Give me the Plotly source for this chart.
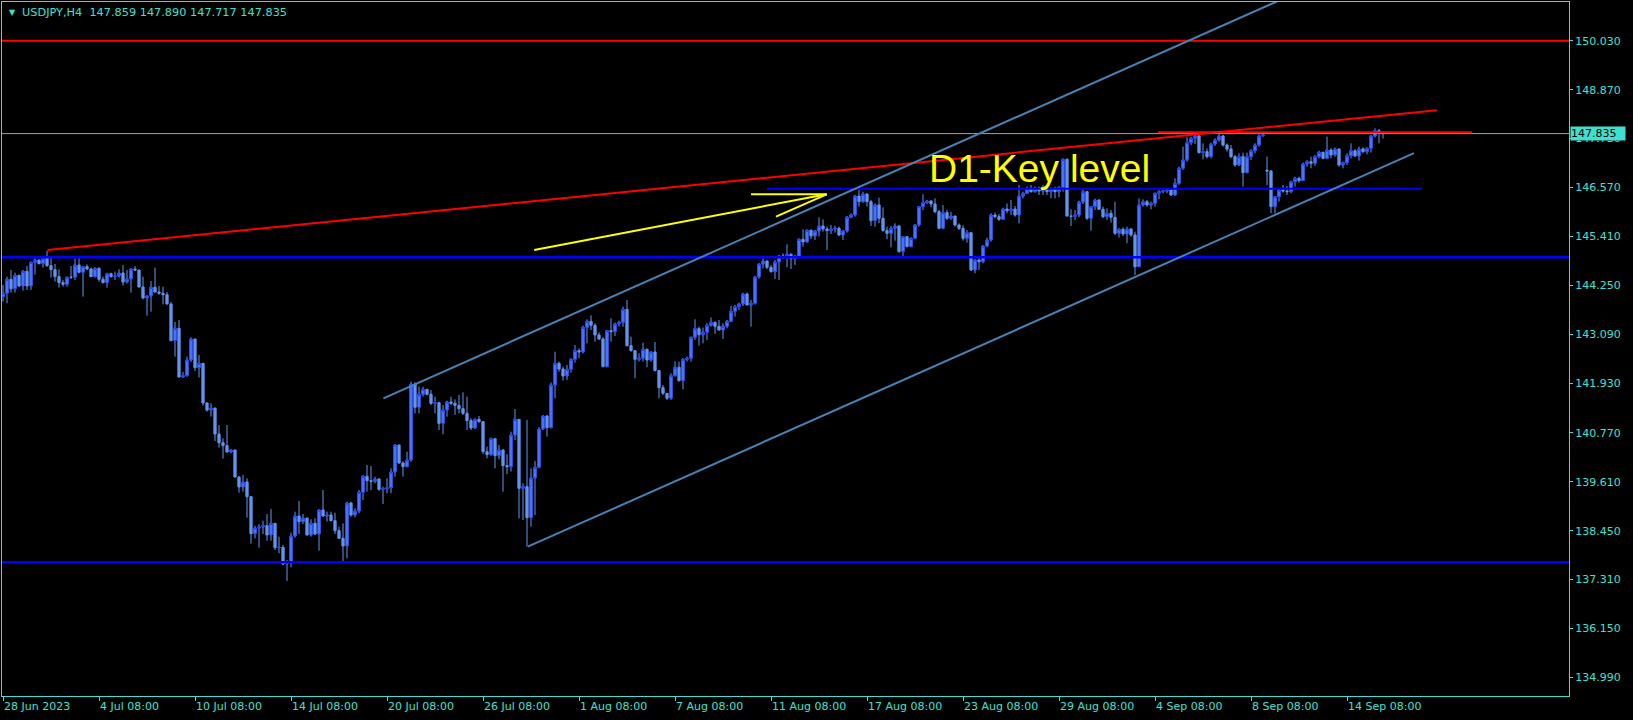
import plotly.graph_objects as go

# ---------------- data (USDJPY H4) ----------------
opens = [
143.983,144.062,144.393,144.172,144.487,144.235,144.582,144.235,144.794,144.849,
144.763,144.889,144.715,144.621,144.456,144.314,144.275,144.440,144.440,144.731,
144.558,144.692,144.637,144.456,144.652,144.393,144.314,144.526,144.456,144.471,
144.542,144.330,144.401,144.637,144.613,144.212,143.952,143.999,144.204,144.093,
144.062,144.030,143.810,142.944,143.235,142.086,142.117,142.487,142.983,142.306,
142.408,141.471,141.306,141.353,140.739,140.534,140.463,140.314,140.361,139.723,
139.487,139.605,139.258,138.384,138.518,138.542,138.573,138.353,138.628,138.053,
138.061,137.668,137.715,138.329,138.802,138.668,138.754,138.353,138.628,138.376,
138.943,138.802,138.825,138.691,138.455,138.274,138.093,139.109,138.825,138.920,
139.361,139.739,139.636,139.621,139.676,139.432,139.447,139.471,139.841,140.479,
140.054,139.967,140.125,141.920,141.369,141.676,141.794,141.676,141.463,141.479,
140.991,141.306,141.495,141.463,141.416,141.337,141.227,141.054,140.881,141.085,
141.030,140.321,140.251,140.628,140.227,140.361,139.991,139.967,140.715,141.085,
139.455,139.495,138.762,139.699,139.951,140.857,141.164,140.888,141.896,142.408,
142.274,142.109,142.266,142.503,142.708,142.677,143.259,143.401,143.306,143.078,
142.984,142.330,143.180,143.157,143.338,143.377,143.684,142.826,142.708,142.503,
142.527,142.740,142.487,142.677,142.236,141.834,141.700,141.582,142.117,142.314,
141.999,142.503,142.527,143.023,143.228,143.086,143.141,143.306,143.377,143.283,
143.196,143.283,143.401,143.637,143.747,143.810,144.047,143.787,143.826,144.448,
144.755,144.826,144.676,144.574,144.802,144.944,144.913,144.984,144.881,144.936,
145.338,145.275,145.551,145.417,145.535,145.653,145.582,145.543,145.582,145.598,
145.440,145.535,145.858,145.913,146.362,146.228,146.409,146.228,145.779,146.149,
145.834,145.543,145.480,145.598,145.653,145.047,145.401,145.165,145.362,145.676,
146.110,146.204,146.243,146.173,145.991,145.598,145.968,145.834,145.889,145.676,
145.598,145.362,145.495,144.613,144.850,144.810,145.180,145.322,145.913,145.873,
145.810,146.054,146.015,146.054,145.913,146.362,146.425,146.527,146.464,146.543,
146.480,146.527,146.464,146.527,146.464,146.558,147.228,145.889,145.880,145.913,
146.220,146.464,145.834,146.110,146.267,146.047,145.873,145.952,145.858,145.480,
145.574,145.464,145.582,145.440,144.691,146.149,146.228,146.149,146.188,146.425,
146.464,146.480,146.503,146.385,146.661,147.015,147.212,147.621,147.724,147.779,
147.385,147.409,147.291,147.590,147.684,147.779,147.566,147.472,147.291,147.094,
147.291,146.913,147.291,147.432,147.566,147.779,146.970,146.950,146.110,146.346,
146.503,146.480,146.464,146.700,146.779,146.724,147.117,147.173,147.133,147.291,
147.393,147.251,147.448,147.330,147.472,147.094,147.149,147.314,147.432,147.306,
147.472,147.409,147.487,147.779,147.905,147.859]

highs = [
144.259,144.456,144.613,144.550,144.500,144.613,144.708,144.810,144.897,144.860,
144.928,145.062,144.928,144.755,144.629,144.377,144.456,144.708,144.889,144.912,
144.700,144.747,144.668,144.676,144.676,144.456,144.550,144.550,144.574,144.629,
144.731,144.613,144.652,144.708,144.613,144.456,144.010,144.353,144.668,144.235,
144.219,144.093,143.857,143.385,143.432,142.204,142.566,143.023,142.983,142.605,
142.416,141.490,141.463,141.353,140.951,140.636,140.951,140.377,140.361,139.747,
139.770,139.691,139.274,138.573,138.612,138.691,138.849,138.967,138.628,138.313,
138.117,137.762,138.408,138.904,139.156,138.849,138.754,138.723,138.746,138.959,
139.416,138.904,138.904,138.880,138.550,138.628,139.140,139.140,138.983,139.416,
139.770,140.006,139.983,139.731,139.690,139.494,139.691,139.928,140.502,140.479,
140.093,140.321,141.975,141.959,141.857,141.857,141.794,141.778,141.621,141.500,
141.424,141.526,141.621,141.558,141.660,141.723,141.621,141.109,141.109,141.164,
141.046,140.440,140.660,140.636,140.479,140.377,140.258,140.794,141.329,141.090,
139.573,141.070,139.928,140.101,140.896,141.188,141.188,141.959,142.684,142.447,
142.329,142.369,142.526,142.842,142.763,143.299,143.448,143.543,143.354,143.141,
143.023,143.196,143.472,143.369,143.417,143.747,143.905,143.039,142.724,142.645,
142.897,142.755,142.692,142.913,142.251,141.897,141.700,142.172,142.456,142.448,
142.527,142.566,143.039,143.448,143.275,143.251,143.354,143.495,143.393,143.432,
143.354,143.432,143.763,143.787,143.842,144.078,144.078,143.905,144.472,144.771,
144.889,144.834,144.732,144.850,144.968,145.007,145.220,145.007,144.968,145.362,
145.574,145.574,145.574,145.558,145.858,145.810,145.637,145.676,145.661,145.637,
145.558,145.889,145.952,146.385,146.503,146.464,146.425,146.267,146.188,146.322,
146.094,145.637,145.653,145.716,145.669,145.417,145.401,145.380,145.700,146.125,
146.401,146.267,146.267,146.306,146.031,146.149,146.031,145.991,145.889,145.716,
145.669,145.558,145.511,144.865,144.889,145.204,145.377,145.952,145.968,145.936,
146.086,146.188,146.267,146.125,146.621,146.464,146.582,146.621,146.582,146.582,
146.621,146.582,146.566,146.582,146.598,147.251,147.251,146.047,146.031,146.251,
146.519,146.480,146.125,146.298,146.280,146.110,146.070,146.031,146.228,145.598,
145.621,145.637,145.597,145.518,146.306,146.283,146.267,146.228,146.440,146.503,
146.503,146.519,146.535,146.779,147.054,147.527,147.763,147.763,147.858,147.802,
147.606,147.487,147.621,147.724,147.842,147.802,147.606,147.566,147.330,147.369,
147.385,147.385,147.464,147.606,147.818,147.826,147.291,146.976,146.362,146.543,
146.621,146.598,146.724,146.818,146.818,147.149,147.212,147.291,147.330,147.432,
147.409,147.763,147.487,147.503,147.480,147.173,147.369,147.606,147.464,147.527,
147.511,147.511,147.802,147.960,147.944,147.890]

lows = [
143.865,143.826,144.078,144.078,144.204,144.125,144.141,144.141,144.503,144.747,
144.668,144.692,144.432,144.338,144.196,144.219,144.219,144.401,144.377,144.534,
143.983,144.613,144.440,144.432,144.338,144.298,144.196,144.432,144.377,144.432,
144.243,144.298,144.078,144.590,144.196,143.920,143.534,143.629,144.078,144.030,
143.802,143.794,142.930,142.566,142.070,142.070,142.094,142.440,142.227,142.070,
141.409,141.267,141.149,140.573,140.416,140.156,140.300,140.282,139.707,139.353,
139.376,138.762,138.148,138.274,138.053,138.376,138.219,138.219,137.998,137.920,
137.636,137.266,137.589,138.290,138.376,138.612,138.340,138.313,138.353,137.983,
138.786,138.668,138.675,138.376,138.258,137.683,137.802,138.786,138.770,138.865,
139.180,139.376,139.416,139.573,139.400,139.085,139.337,139.337,139.731,140.030,
139.731,139.951,140.085,141.227,141.227,141.621,141.652,141.424,141.227,140.833,
140.731,141.148,141.424,141.188,141.227,141.188,140.833,140.833,140.860,141.006,
140.266,140.164,140.219,139.928,140.140,139.377,139.794,139.849,140.597,138.747,
138.707,138.077,138.550,138.825,139.928,140.833,140.676,140.873,141.581,142.211,
141.999,142.014,142.188,142.424,142.527,142.645,142.881,143.196,142.921,142.960,
142.314,142.314,142.921,143.054,143.275,143.275,142.803,142.684,142.054,142.448,
142.448,142.314,142.448,142.220,141.582,141.661,141.543,141.543,142.094,141.976,
141.795,142.448,142.448,142.960,142.826,142.881,142.960,143.275,143.102,143.180,
142.984,143.236,143.377,143.511,143.669,143.763,143.779,143.275,143.795,144.409,
144.653,144.629,144.550,144.401,144.377,144.873,144.676,144.637,144.732,144.897,
145.165,145.270,145.346,145.322,145.401,145.519,145.086,145.464,145.496,145.417,
145.322,145.496,145.834,145.873,146.110,146.200,146.110,145.653,145.637,145.716,
145.519,145.338,145.149,145.306,145.023,144.928,145.149,145.149,145.338,145.637,
146.031,146.173,146.094,145.952,145.574,145.574,145.795,145.795,145.637,145.558,
145.306,145.259,144.590,144.535,144.613,144.771,145.149,145.283,145.834,145.771,
145.795,145.952,145.913,145.873,145.716,146.306,146.409,146.440,146.440,146.385,
146.385,146.385,146.306,146.306,146.330,146.464,145.873,145.653,145.795,145.858,
146.173,145.795,145.543,146.031,146.031,145.834,145.795,145.732,145.440,145.377,
145.417,145.243,145.400,144.495,144.690,146.110,146.110,146.047,146.110,146.283,
146.425,146.425,146.362,146.360,146.621,146.976,147.173,147.566,147.590,147.369,
147.228,147.251,147.251,147.543,147.645,147.527,147.409,147.251,147.054,147.070,
146.582,146.897,147.212,147.369,147.527,147.779,146.621,145.952,145.952,146.228,
146.440,146.385,146.425,146.582,146.677,146.740,147.054,147.015,147.070,147.251,
147.228,147.228,147.251,147.291,147.054,147.015,147.094,147.251,147.291,147.196,
147.369,147.346,147.385,147.747,147.606,147.717]

closes = [
144.062,144.393,144.172,144.487,144.235,144.582,144.235,144.794,144.849,144.763,
144.889,144.715,144.621,144.456,144.314,144.275,144.440,144.440,144.731,144.558,
144.692,144.637,144.456,144.652,144.393,144.314,144.526,144.456,144.471,144.542,
144.330,144.401,144.637,144.613,144.212,143.952,143.999,144.204,144.093,144.062,
144.030,143.810,142.944,143.235,142.086,142.117,142.487,142.983,142.306,142.408,
141.471,141.306,141.353,140.739,140.534,140.463,140.314,140.361,139.723,139.487,
139.605,139.258,138.384,138.518,138.542,138.573,138.353,138.628,138.053,138.061,
137.668,137.715,138.329,138.802,138.668,138.754,138.353,138.628,138.376,138.943,
138.802,138.825,138.691,138.455,138.274,138.093,139.109,138.825,138.920,139.361,
139.739,139.636,139.621,139.676,139.432,139.447,139.471,139.841,140.479,140.054,
139.967,140.125,141.920,141.369,141.676,141.794,141.676,141.463,141.479,140.991,
141.306,141.495,141.463,141.416,141.337,141.227,141.054,140.881,141.085,141.030,
140.321,140.251,140.628,140.227,140.361,139.991,139.967,140.715,141.085,139.455,
139.495,138.762,139.699,139.951,140.857,141.164,140.888,141.896,142.408,142.274,
142.109,142.266,142.503,142.708,142.677,143.259,143.401,143.306,143.078,142.984,
142.330,143.180,143.157,143.338,143.377,143.684,142.826,142.708,142.503,142.527,
142.740,142.487,142.677,142.236,141.834,141.700,141.582,142.117,142.314,141.999,
142.503,142.527,143.023,143.228,143.086,143.141,143.306,143.377,143.283,143.196,
143.283,143.401,143.637,143.747,143.810,144.047,143.787,143.826,144.448,144.755,
144.826,144.676,144.574,144.802,144.944,144.913,144.984,144.881,144.936,145.338,
145.275,145.551,145.417,145.535,145.653,145.582,145.543,145.582,145.598,145.440,
145.535,145.858,145.913,146.362,146.228,146.409,146.228,145.779,146.149,145.834,
145.543,145.480,145.598,145.653,145.047,145.401,145.165,145.362,145.676,146.110,
146.204,146.243,146.173,145.991,145.598,145.968,145.834,145.889,145.676,145.598,
145.362,145.495,144.613,144.850,144.810,145.180,145.322,145.913,145.873,145.810,
146.054,146.015,146.054,145.913,146.362,146.425,146.527,146.464,146.543,146.480,
146.527,146.464,146.527,146.464,146.558,147.228,145.889,145.880,145.913,146.220,
146.464,145.834,146.110,146.267,146.047,145.873,145.952,145.858,145.480,145.574,
145.464,145.582,145.440,144.691,146.149,146.228,146.149,146.188,146.425,146.464,
146.480,146.503,146.385,146.661,147.015,147.212,147.621,147.724,147.779,147.385,
147.409,147.291,147.590,147.684,147.779,147.566,147.472,147.291,147.094,147.291,
146.913,147.291,147.432,147.566,147.779,147.802,146.950,146.110,146.346,146.503,
146.480,146.464,146.700,146.779,146.724,147.117,147.173,147.133,147.291,147.393,
147.251,147.448,147.330,147.472,147.094,147.149,147.314,147.432,147.306,147.472,
147.409,147.487,147.779,147.905,147.859,147.835]

bar_index = list(range(len(closes)))

x_tick_pos = [0, 24, 48, 72, 96, 120, 144, 168, 192, 216, 240, 264, 288, 312, 336]
x_tick_labels = ["28 Jun 2023", "4 Jul 08:00", "10 Jul 08:00", "14 Jul 08:00", "20 Jul 08:00",
                 "26 Jul 08:00", "1 Aug 08:00", "7 Aug 08:00", "11 Aug 08:00", "17 Aug 08:00",
                 "23 Aug 08:00", "29 Aug 08:00", "4 Sep 08:00", "8 Sep 08:00", "14 Sep 08:00"]
y_tick_vals = [150.03, 148.87, 147.73, 146.57, 145.41, 144.25, 143.09, 141.93,
               140.77, 139.61, 138.45, 137.31, 136.15, 134.99]
y_tick_labels = ["150.030", "148.870", "147.730", "146.570", "145.410", "144.250", "143.090",
                 "141.930", "140.770", "139.610", "138.450", "137.310", "136.150", "134.990"]

# drawn objects (levels / trend lines), in bar-index and price units
red_level = 150.030
blue_upper_level = 144.915
blue_lower_level = 137.708
key_level = 146.535
key_level_span = [191.0, 354.75]
red_mark_level = 147.868
red_mark_span = [288.75, 367.25]
red_trend_x = [11.1, 358.5]
red_trend_y = [145.086, 148.386]
channel_upper_x = [95.1, 330.0]
channel_upper_y = [141.582, 151.44]
channel_lower_x = [131.2, 352.75]
channel_lower_y = [138.076, 147.372]
arrow_shaft_x = [132.8, 205.9]
arrow_shaft_y = [145.086, 146.401]
arrow_head1_x = [187.0, 205.9]
arrow_head1_y = [146.401, 146.401]
arrow_head2_x = [193.25, 205.9]
arrow_head2_y = [145.872, 146.401]
label_text = "D1-Key level"
label_x = 231.5
label_y = 146.93

x_range = [-0.25, 391.5]
y_range = [134.549, 150.944]
symbol = "USDJPY,H4"

# ---------------- styles ----------------
TURQ = "#40E0D0"
CORN = "#6495ED"
BULL_EDGE = "#1E3CFF"
BLUE = "#0000FF"
STEEL = "#4682B4"

fig = go.Figure()


def add_line(xs, ys, color, width):
    fig.add_trace(go.Scatter(x=xs, y=ys, mode="lines", line=dict(color=color, width=width),
                             hoverinfo="skip", showlegend=False))


add_line(x_range, [red_level, red_level], "#FF0000", 2)
add_line(x_range, [blue_upper_level, blue_upper_level], BLUE, 2.6)
add_line(x_range, [blue_lower_level, blue_lower_level], BLUE, 2.6)
add_line(key_level_span, [key_level, key_level], BLUE, 2)
add_line(x_range, [closes[-1], closes[-1]], "#A0A0A0", 1)
add_line(red_mark_span, [red_mark_level, red_mark_level], "#FF0000", 2)
add_line(red_trend_x, red_trend_y, "#FF0000", 2)
add_line(channel_upper_x, channel_upper_y, STEEL, 2)
add_line(channel_lower_x, channel_lower_y, STEEL, 2)
add_line(arrow_shaft_x, arrow_shaft_y, "#FFFF00", 2)
add_line(arrow_head1_x, arrow_head1_y, "#FFFF00", 2)
add_line(arrow_head2_x, arrow_head2_y, "#FFFF00", 2)

fig.add_trace(go.Scatter(x=[label_x], y=[label_y], mode="text", text=[label_text],
                         textposition="middle right",
                         textfont=dict(family="Liberation Sans, Arial", size=39, color="#FFFF00"),
                         hoverinfo="skip", showlegend=False))

# all candles (wicks + bodies) in cornflower blue
fig.add_trace(go.Candlestick(
    x=bar_index, open=opens, high=highs, low=lows, close=closes,
    increasing=dict(line=dict(color=CORN, width=1), fillcolor=CORN),
    decreasing=dict(line=dict(color=CORN, width=1), fillcolor=CORN),
    whiskerwidth=0, hoverinfo="skip", showlegend=False))

# bull bodies get a blue outline
up = [i for i in bar_index if closes[i] > opens[i]]
fig.add_trace(go.Candlestick(
    x=up,
    open=[opens[i] for i in up], close=[closes[i] for i in up],
    high=[max(opens[i], closes[i]) for i in up], low=[min(opens[i], closes[i]) for i in up],
    increasing=dict(line=dict(color=BULL_EDGE, width=1), fillcolor=CORN),
    decreasing=dict(line=dict(color=CORN, width=1), fillcolor=CORN),
    whiskerwidth=0, hoverinfo="skip", showlegend=False))

axis_font = dict(family="DejaVu Sans", size=11, color=TURQ)
fig.update_layout(
    width=1633, height=720,
    margin=dict(l=2, r=64, t=2, b=24, autoexpand=False),
    paper_bgcolor="black", plot_bgcolor="black",
    showlegend=False,
    boxgap=0.25, boxgroupgap=0.25,
    xaxis=dict(range=x_range, tickmode="array", tickvals=x_tick_pos, ticktext=x_tick_labels,
               showgrid=False, zeroline=False, showline=True, linecolor=TURQ, linewidth=1,
               mirror=True, ticks="outside", ticklen=4, tickcolor=TURQ, tickfont=axis_font,
               ticklabelposition="outside right", rangeslider=dict(visible=False)),
    yaxis=dict(range=y_range, side="right", tickmode="array", tickvals=y_tick_vals,
               ticktext=y_tick_labels, showgrid=False, zeroline=False, showline=True,
               linecolor=TURQ, linewidth=1, mirror=True, ticks="outside", ticklen=3,
               tickcolor=TURQ, tickfont=axis_font),
)

header = f"{symbol}  {opens[-1]:.3f} {highs[-1]:.3f} {lows[-1]:.3f} {closes[-1]:.3f}"
fig.add_annotation(x=(7 - 2) / 1567, y=(696 - 12.5) / 694, xref="paper", yref="paper",
                   xanchor="left", yanchor="middle", text="▼", showarrow=False,
                   font=dict(family="DejaVu Sans", size=8, color=TURQ))
fig.add_annotation(x=(20 - 2) / 1567, y=(696 - 13) / 694, xref="paper", yref="paper",
                   xanchor="left", yanchor="middle", text=header, showarrow=False,
                   font=dict(family="DejaVu Sans", size=11.3, color=TURQ))
fig.add_annotation(x=1, y=closes[-1], xref="paper", yref="y", xanchor="left", yanchor="middle",
                   xshift=1, text=f"{closes[-1]:.3f}", showarrow=False, bgcolor=TURQ,
                   borderpad=0, width=54, align="left",
                   font=dict(family="DejaVu Sans", size=11, color="black"))

fig.write_html("out.html", config={"displayModeBar": False},
               post_script="document.body.style.margin='0';document.body.style.overflow='hidden';")
